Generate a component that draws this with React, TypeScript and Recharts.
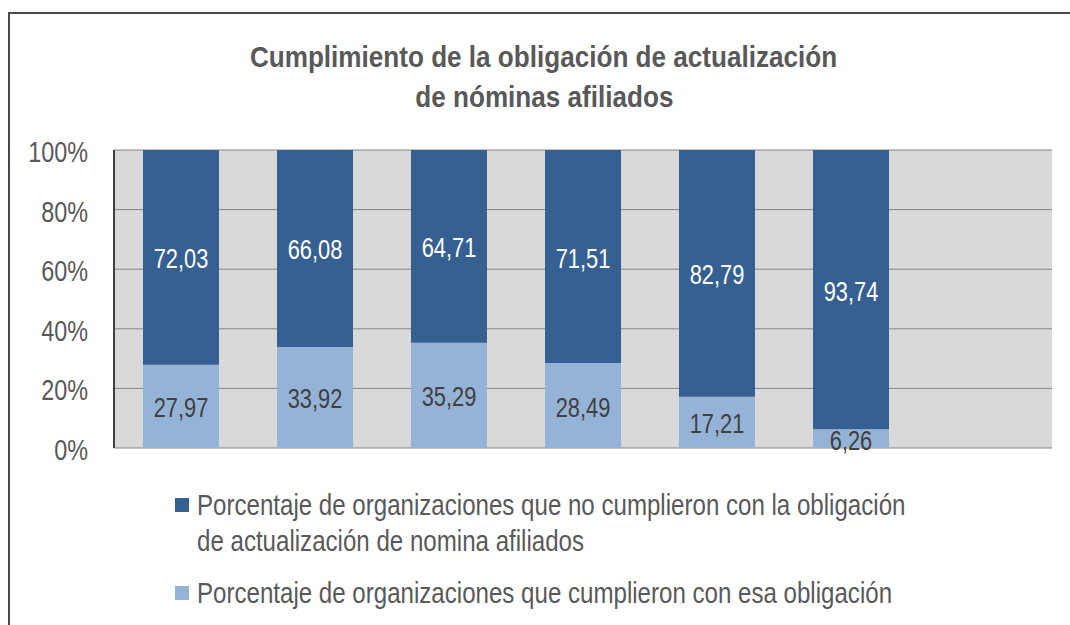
import React from 'react';
import { BarChart, Bar, XAxis, YAxis, CartesianGrid, LabelList } from 'recharts';

const categorias = ['1', '2', '3', '4', '5', '6', '7'];
const cumplieron = [27.97, 33.92, 35.29, 28.49, 17.21, 6.26];
const noCumplieron = [72.03, 66.08, 64.71, 71.51, 82.79, 93.74];
const ticksY = [0, 20, 40, 60, 80, 100];

const tituloLineas = ['Cumplimiento de la obligación de actualización', 'de nóminas afiliados'];
const nombreNo = ['Porcentaje de organizaciones que no cumplieron con la obligación', 'de actualización de nomina afiliados'];
const nombreSi = ['Porcentaje de organizaciones que cumplieron con esa obligación'];

const data = categorias.map((c, i) => ({
  name: c,
  cumplieron: cumplieron[i],
  noCumplieron: noCumplieron[i],
}));

const FONT = "'Liberation Sans', Arial, sans-serif";
const OSCURO = '#366092';
const CLARO = '#95b3d7';
const GRIS = '#595959';
const ESCALA = 0.78;

const fmt = (v: any) => (v == null ? '' : Number(v).toFixed(2).replace('.', ','));

// Arial Narrow no existe aqui: se estrecha Liberation Sans
const TickY = ({ x, y, payload }: any) => (
  <text
    transform={`translate(${x},${y + 2}) scale(${ESCALA},1)`}
    textAnchor="end"
    dominantBaseline="central"
    fill={GRIS}
    fontSize={30}
    fontFamily={FONT}
  >
    {`${payload.value}%`}
  </text>
);

const etiqueta = (color: string) => (props: any) => {
  const { x, y, width, height, value } = props;
  if (value == null) return null;
  const cx = Number(x) + Number(width) / 2;
  const cy = Number(y) + Number(height) / 2 + 1;
  return (
    <text
      transform={`translate(${cx},${cy}) scale(${ESCALA},1)`}
      textAnchor="middle"
      dominantBaseline="central"
      fill={color}
      fontSize={28}
      fontFamily={FONT}
    >
      {fmt(value)}
    </text>
  );
};

const Estrecho: React.FC<{ children: React.ReactNode; s?: number; origin?: string }> = ({ children, s = ESCALA, origin = 'left' }) => (
  <span style={{ display: 'inline-block', whiteSpace: 'nowrap', transform: `scaleX(${s})`, transformOrigin: origin }}>{children}</span>
);

const App: React.FC = () => {
  return (
    <div style={{ position: 'relative', width: 1070, height: 625, overflow: 'hidden', fontFamily: FONT, background: '#fff' }}>
      <style>{`body{margin:0;overflow:hidden}`}</style>
      <div style={{ position: 'absolute', left: 8, top: 12, width: 1100, height: 700, border: '2px solid #4a4a4a' }} />
      <div style={{ position: 'absolute', left: 0, top: 37, width: 1088, textAlign: 'center', color: GRIS, fontWeight: 'bold', fontSize: 30, lineHeight: '40px' }}>
        {tituloLineas.map((t) => (
          <div key={t}>
            <Estrecho s={0.87} origin="center">{t}</Estrecho>
          </div>
        ))}
      </div>
      <div style={{ position: 'absolute', left: 0, top: 0 }}>
        <BarChart
          width={1070}
          height={625}
          data={data}
          margin={{ top: 150, right: 18, left: 24, bottom: 177 }}
          barSize={76}
        >
          <CartesianGrid vertical={false} stroke="#868686" fill="#d9d9d9" fillOpacity={1} />
          <XAxis dataKey="name" tick={false} tickLine={false} height={0} axisLine={{ stroke: '#404040', strokeWidth: 2 }} />
          <XAxis xAxisId="top" dataKey="name" orientation="top" tick={false} tickLine={false} height={0} axisLine={{ stroke: '#404040', strokeWidth: 2 }} />
          <YAxis
            domain={[0, 100]}
            ticks={ticksY}
            width={90}
            tickSize={0}
            tickMargin={26}
            tick={<TickY />}
            axisLine={{ stroke: '#404040', strokeWidth: 2 }}
            tickLine={false}
          />
          <YAxis yAxisId="right" orientation="right" domain={[0, 100]} width={0} tick={false} tickLine={false} axisLine={{ stroke: '#404040', strokeWidth: 2 }} />
          <Bar dataKey="cumplieron" stackId="a" fill={CLARO} isAnimationActive={false}>
            <LabelList dataKey="cumplieron" content={etiqueta('#404040')} />
          </Bar>
          <Bar dataKey="noCumplieron" stackId="a" fill={OSCURO} isAnimationActive={false}>
            <LabelList dataKey="noCumplieron" content={etiqueta('#ffffff')} />
          </Bar>
        </BarChart>
      </div>
      <div style={{ position: 'absolute', left: 175, top: 487, color: GRIS, fontSize: 30, lineHeight: '36px' }}>
        <div style={{ display: 'flex', alignItems: 'flex-start' }}>
          <span style={{ width: 14, height: 14, background: OSCURO, marginTop: 11, marginRight: 8, flex: 'none' }} />
          <div>
            {nombreNo.map((t) => (
              <div key={t}>
                <Estrecho s={0.803}>{t}</Estrecho>
              </div>
            ))}
          </div>
        </div>
        <div style={{ display: 'flex', alignItems: 'flex-start', marginTop: 16 }}>
          <span style={{ width: 14, height: 14, background: CLARO, marginTop: 11, marginRight: 8, flex: 'none' }} />
          <div>
            {nombreSi.map((t) => (
              <div key={t}>
                <Estrecho s={0.803}>{t}</Estrecho>
              </div>
            ))}
          </div>
        </div>
      </div>
    </div>
  );
};

export default App;
